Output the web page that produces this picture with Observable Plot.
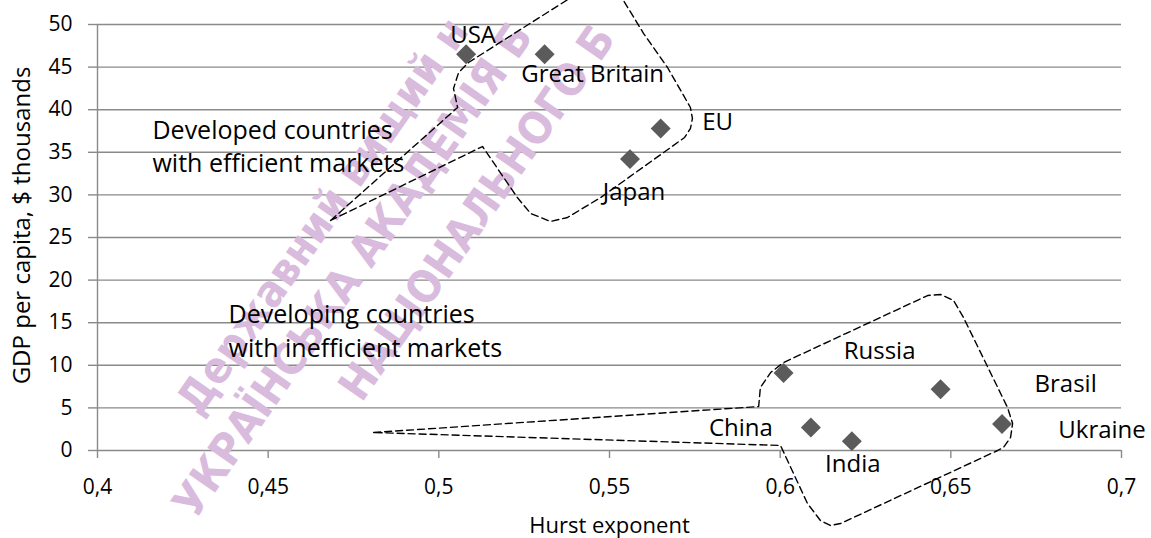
<!DOCTYPE html>
<html><head><meta charset="utf-8">
<script src="https://cdn.jsdelivr.net/npm/d3@7"></script>
<script src="https://cdn.jsdelivr.net/npm/@observablehq/plot@0.6"></script>
<style>html,body{margin:0;padding:0;background:#fff}#chart svg{display:block}</style>
</head><body><div id="chart"></div>
<script>
// ---- data ----
const countries = ["USA", "Great Britain", "EU", "Japan", "Russia", "Brasil", "Ukraine", "China", "India"];
const hurst     = [0.508, 0.531, 0.565, 0.556, 0.601, 0.647, 0.665, 0.609, 0.621];
const gdp       = [46.5, 46.5, 37.8, 34.2, 9.1, 7.2, 3.1, 2.7, 1.1];

const xTicks = [0.4, 0.45, 0.5, 0.55, 0.6, 0.65, 0.7];
const xTickLabels = ["0,4", "0,45", "0,5", "0,55", "0,6", "0,65", "0,7"];
const yTicks = [0, 5, 10, 15, 20, 25, 30, 35, 40, 45, 50];

const xTitle = "Hurst exponent";
const yTitle = "GDP per capita, $ thousands";

// group annotations (callout text and dashed callout outlines, in data units)
const noteText = ["Developed countries", "with efficient markets", "Developing countries", "with inefficient markets"];
const noteX = [0.4161, 0.4161, 0.4384, 0.4384];
const noteY = [37.5, 33.57, 15.96, 11.97];

const developedX = [0.4683, 0.5055, 0.5043, 0.5058, 0.5087, 0.5327, 0.5415, 0.5474, 0.5509, 0.5541, 0.5600, 0.5670, 0.5717, 0.5737, 0.5743, 0.5737, 0.5720, 0.5679, 0.5474, 0.5377, 0.5327, 0.5269, 0.5230, 0.5128, 0.4683];
const developedY = [27.00, 40.26, 42.49, 44.37, 45.54, 51.64, 53.87, 54.93, 54.58, 52.82, 48.94, 44.95, 41.67, 40.26, 38.97, 37.79, 36.74, 35.56, 29.69, 27.35, 26.88, 27.82, 29.69, 35.68, 27.00];

const developingX = [0.4809, 0.5937, 0.5942, 0.5972, 0.6010, 0.6432, 0.6470, 0.6508, 0.6537, 0.6666, 0.6681, 0.6675, 0.6654, 0.6637, 0.6177, 0.6147, 0.6118, 0.6080, 0.6001, 0.4809];
const developingY = [2.11, 5.16, 7.39, 9.15, 10.33, 18.19, 18.31, 17.61, 15.61, 5.05, 3.17, 1.53, 0.35, 0.00, -8.57, -8.80, -8.22, -6.22, 0.59, 2.11];

// background watermark text (the part visible in the picture)
const watermarkLines = [
  "Державний вищий н",
  "УКРАЇНСЬКА АКАДЕМІЯ Б",
  "НАЦІОНАЛЬНОГО Б"
];

// ---- styling / layout ----
const W = 1151, H = 538;
const mL = 97, mR = 30, mT = 24, mB = 88;
const gridColor = "#8a8a8a";
const pointColor = "#5b5b5b";
const textColor = "#000000";
const font = "'Open Sans', 'Noto Sans', sans-serif";
// label offsets (px) of each country label relative to its point
const labelOffset = {
  "USA": [7, -19.5], "Great Britain": [48, 19.5], "EU": [57, -6], "Japan": [4, 33],
  "Russia": [96, -22], "Brasil": [125, -5], "Ukraine": [100, 6], "China": [-70, 1], "India": [1, 23]
};
// watermark line starts (px in svg) and rotation
const watermarkPos = [[199, 417], [195, 520], [361, 403]];
const watermarkRotate = -55;

const points = countries.map((c, i) => ({country: c, x: hurst[i], y: gdp[i]}));
const developed = developedX.map((x, i) => ({x, y: developedY[i]}));
const developing = developingX.map((x, i) => ({x, y: developingY[i]}));
const notes = noteText.map((t, i) => ({t, x: noteX[i], y: noteY[i]}));

const marks = [
  Plot.ruleY(yTicks, {stroke: gridColor, strokeWidth: 1.4}),
  Plot.ruleX([0.4], {stroke: gridColor, strokeWidth: 1.4}),
  Plot.axisY(yTicks, {tickSize: 9, tickPadding: 16, fontSize: 21, stroke: gridColor, fill: textColor, strokeWidth: 1.4, label: null}),
  Plot.axisX(xTicks, {tickSize: 8, tickPadding: 21, fontSize: 21, stroke: gridColor, fill: textColor, strokeWidth: 1.4, label: null,
    tickFormat: d => xTickLabels[xTicks.indexOf(d)]}),
  ...watermarkLines.map((t, i) => Plot.text([t], {
    frameAnchor: "top-left", dx: watermarkPos[i][0] - mL, dy: watermarkPos[i][1] - mT,
    rotate: watermarkRotate, textAnchor: "start", lineAnchor: "bottom",
    fill: "#d9bbdd", fontSize: 44, fontWeight: "bold",
    fontFamily: "'Liberation Sans Narrow', 'DejaVu Sans Condensed', 'DejaVu Sans', sans-serif"
  })),
  Plot.line(developed, {x: "x", y: "y", stroke: "#000", strokeWidth: 1.4, strokeDasharray: "7,4"}),
  Plot.line(developing, {x: "x", y: "y", stroke: "#000", strokeWidth: 1.4, strokeDasharray: "7,4"}),
  Plot.dot(points, {x: "x", y: "y", symbol: "diamond2", r: 9, fill: pointColor, stroke: "none"}),
  ...countries.map(c => Plot.text(points.filter(d => d.country === c), {
    x: "x", y: "y", text: "country", dx: labelOffset[c][0], dy: labelOffset[c][1],
    textAnchor: "middle", lineAnchor: "middle", fontSize: 24, fill: textColor
  })),
  Plot.text(notes, {x: "x", y: "y", text: "t", textAnchor: "start", lineAnchor: "middle", fontSize: 25, fill: textColor}),
  Plot.text([xTitle], {frameAnchor: "bottom", dy: 75, textAnchor: "middle", lineAnchor: "middle", fontSize: 22, fill: textColor}),
  Plot.text([yTitle], {frameAnchor: "left", dx: 22 - mL, dy: -12, rotate: -90, textAnchor: "middle", lineAnchor: "middle", fontSize: 24, fill: textColor})
];

const chart = Plot.plot({
  width: W, height: H,
  marginLeft: mL, marginRight: mR, marginTop: mT, marginBottom: mB,
  style: {fontFamily: font, background: "#fff", overflow: "visible"},
  x: {domain: [0.4, 0.7], axis: null},
  y: {domain: [0, 50], axis: null},
  marks
});
document.getElementById("chart").appendChild(chart);
</script>
</body></html>
